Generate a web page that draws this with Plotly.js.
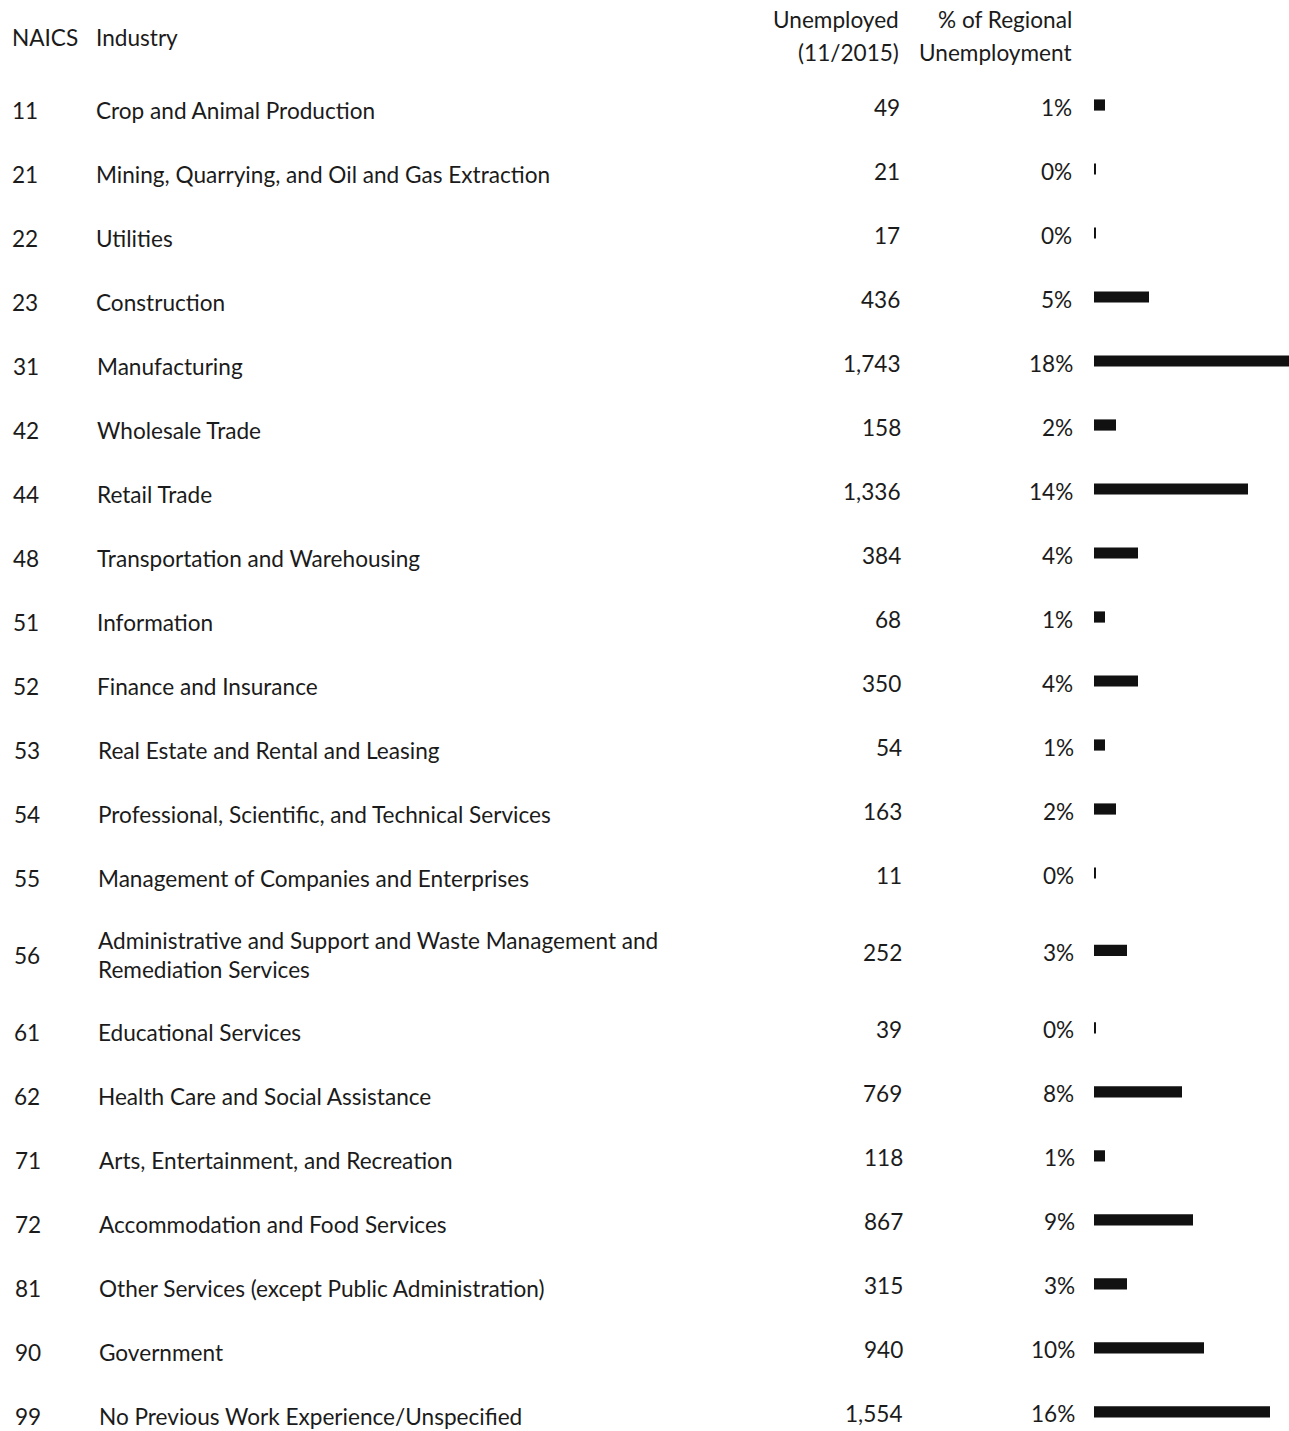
<!DOCTYPE html>
<html>
<head>
<meta charset="utf-8">
<script src="https://cdn.plot.ly/plotly-3.0.1.min.js"></script>
<style>
  html, body { margin: 0; padding: 0; background: #ffffff; }
  #chart { width: 1289px; height: 1431px; }
</style>
</head>
<body>
<div id="chart"></div>
<script>
// ---- Data ----
const naicsCodes = ['11','21','22','23','31','42','44','48','51','52','53','54','55','56','61','62','71','72','81','90','99'];
const industries = [
  'Crop and Animal Production',
  'Mining, Quarrying, and Oil and Gas Extraction',
  'Utilities',
  'Construction',
  'Manufacturing',
  'Wholesale Trade',
  'Retail Trade',
  'Transportation and Warehousing',
  'Information',
  'Finance and Insurance',
  'Real Estate and Rental and Leasing',
  'Professional, Scientific, and Technical Services',
  'Management of Companies and Enterprises',
  'Administrative and Support and Waste Management and<br>Remediation Services',
  'Educational Services',
  'Health Care and Social Assistance',
  'Arts, Entertainment, and Recreation',
  'Accommodation and Food Services',
  'Other Services (except Public Administration)',
  'Government',
  'No Previous Work Experience/Unspecified'
];
const unemployed = [49, 21, 17, 436, 1743, 158, 1336, 384, 68, 350, 54, 163, 11, 252, 39, 769, 118, 867, 315, 940, 1554];
const pctOfRegional = [1, 0, 0, 5, 18, 2, 14, 4, 1, 4, 1, 2, 0, 3, 0, 8, 1, 9, 3, 10, 16];
const headerNaics = 'NAICS';
const headerIndustry = 'Industry';
const headerUnemployed = ['Unemployed', '(11/2015)'];
const headerPct = ['% of Regional', 'Unemployment'];

// ---- Layout helpers ----
const W = 1289, H = 1431;
const ROW_PX = 64;          // pixels per row step
const FIRST_ROW_PX = 110;   // pixel centre of first row
const EXTRA_LINE = 0.21;    // extra row units per additional text line
const FONT = 'Lato, "Open Sans", sans-serif';
const FS = 22.6;
const TXT = '#1b1b1b';

// row positions (row units), accounting for multi-line labels
const lineCount = industries.map(s => s.split('<br>').length);
const rowPos = [];
let p = 0;
for (let i = 0; i < industries.length; i++) {
  if (i > 0) p += 1 + EXTRA_LINE * ((lineCount[i - 1] - 1) + (lineCount[i] - 1));
  rowPos.push(p);
}
const yTop = -FIRST_ROW_PX / ROW_PX;
const yBottom = (H - FIRST_ROW_PX) / ROW_PX;

const px = v => v / W;
const skew = pos => pos * 0.16; // slight scan skew

const annotations = [];
function addText(text, xPx, y, anchor, yshift, extraX) {
  annotations.push({
    text: text, xref: 'paper', yref: 'y', x: px(xPx), y: y,
    xanchor: anchor, yanchor: 'middle', showarrow: false,
    xshift: extraX || 0, yshift: yshift || 0, align: anchor === 'right' ? 'right' : 'left',
    font: { family: FONT, size: FS, color: TXT }
  });
}
function addHeader(text, xPx, yPx, anchor) {
  annotations.push({
    text: text, xref: 'paper', yref: 'paper', x: px(xPx), y: 1 - yPx / H,
    xanchor: anchor, yanchor: 'middle', showarrow: false,
    align: anchor === 'right' ? 'right' : 'left',
    font: { family: FONT, size: FS, color: TXT }
  });
}

addHeader(headerNaics, 10, 37, 'left');
addHeader(headerIndustry, 94, 37, 'left');
addHeader(headerUnemployed[0], 901, 20, 'right');
addHeader(headerUnemployed[1], 901, 52, 'right');
addHeader(headerPct[0], 1074, 20, 'right');
addHeader(headerPct[1], 1074, 52, 'right');

for (let i = 0; i < naicsCodes.length; i++) {
  const y = rowPos[i];
  const s = skew(y);
  addText(naicsCodes[i], 10, y, 'left', 0, s);
  addText(industries[i], 94, y, 'left', 0, s);
  addText(unemployed[i].toLocaleString('en-US'), 902, y, 'right', 3, s);
  addText(pctOfRegional[i] + '%', 1074, y, 'right', 3, s);
}

// bar lengths: share in percent; 0% rows shown as a thin stub
const barLen = pctOfRegional.map(v => v === 0 ? 0.18 : v);
const BAR_W = 0.175;
const BAR_START_PX = 1094;
const PX_PER_PCT = 11;

const barTrace = {
  type: 'bar', orientation: 'h',
  x: barLen, y: rowPos,
  width: BAR_W, offset: -BAR_W / 2 - 5 / ROW_PX,
  marker: { color: '#111111', line: { width: 0 } },
  hoverinfo: 'skip', showlegend: false
};

const layout = {
  width: W, height: H,
  margin: { l: 0, r: 0, t: 0, b: 0, pad: 0 },
  paper_bgcolor: '#ffffff', plot_bgcolor: 'rgba(0,0,0,0)',
  showlegend: false,
  xaxis: {
    domain: [px(BAR_START_PX), 1],
    range: [0, (W - BAR_START_PX) / PX_PER_PCT],
    visible: false, fixedrange: true
  },
  yaxis: {
    domain: [0, 1],
    range: [yBottom, yTop],
    visible: false, fixedrange: true
  },
  annotations: annotations,
  font: { family: FONT }
};

Plotly.newPlot('chart', [barTrace], layout, { displayModeBar: false, staticPlot: true });
</script>
</body>
</html>
